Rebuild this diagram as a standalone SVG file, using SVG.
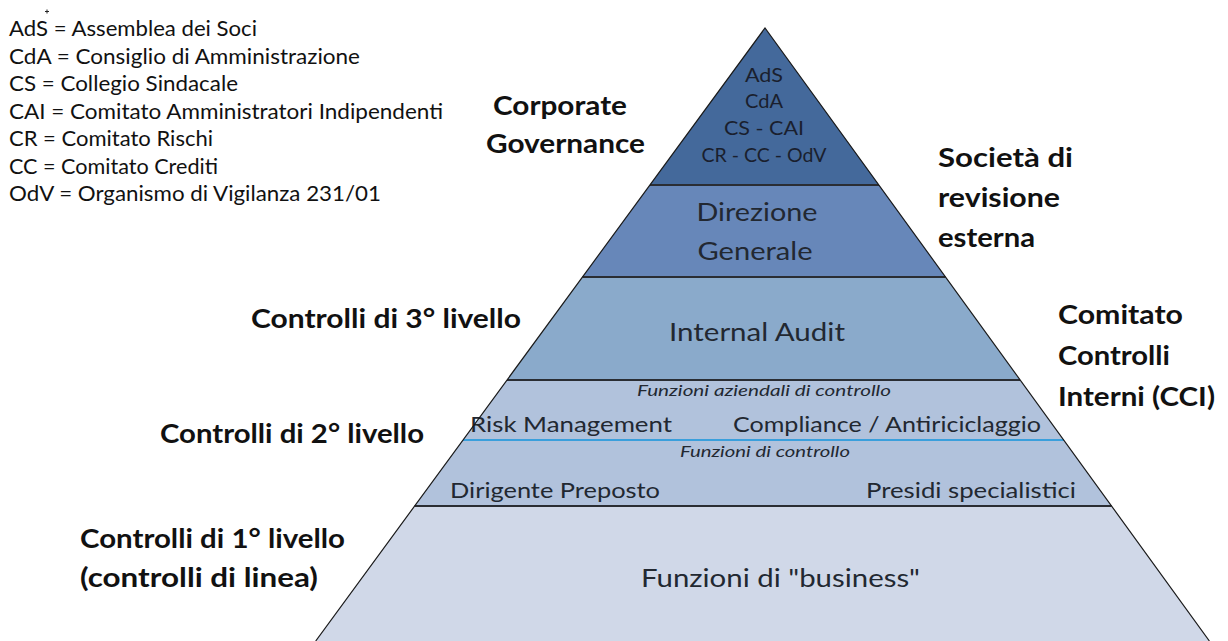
<svg xmlns="http://www.w3.org/2000/svg" width="1228" height="641" viewBox="0 0 1228 641">
<style>
text{font-family:Lato,"Open Sans","Liberation Sans",sans-serif;fill:#111;}
.leg{font-size:21px;}
.lbl{font-size:27px;font-weight:bold;}
.in{font-size:20px;fill:#1a1f2e;text-anchor:middle;}
.big{font-size:25px;fill:#222831;text-anchor:middle;}
.mid{font-size:21px;fill:#222831;}
.it{font-size:16px;font-style:italic;fill:#222831;text-anchor:middle;}
.band{stroke:none;}
.sep{stroke:#2a2d33;stroke-width:2;}
.edge{fill:none;stroke:#1a1a1a;stroke-width:1.2;}
</style>
<rect width="1228" height="641" fill="#ffffff"/>

<g id="legend">
<path d="M47 9.5v4M45 11.5h4" stroke="#222" stroke-width="1"/>
<text class="leg" x="9" y="36" textLength="248" lengthAdjust="spacingAndGlyphs">AdS = Assemblea dei Soci</text>
<text class="leg" x="9" y="63.5" textLength="351" lengthAdjust="spacingAndGlyphs">CdA = Consiglio di Amministrazione</text>
<text class="leg" x="9" y="91" textLength="229" lengthAdjust="spacingAndGlyphs">CS = Collegio Sindacale</text>
<text class="leg" x="9" y="118.5" textLength="434" lengthAdjust="spacingAndGlyphs">CAI = Comitato Amministratori Indipendenti</text>
<text class="leg" x="9" y="146" textLength="204" lengthAdjust="spacingAndGlyphs">CR = Comitato Rischi</text>
<text class="leg" x="9" y="173.5" textLength="209" lengthAdjust="spacingAndGlyphs">CC = Comitato Crediti</text>
<text class="leg" x="9" y="201" textLength="372" lengthAdjust="spacingAndGlyphs">OdV = Organismo di Vigilanza 231/01</text>
</g>

<g id="band-governance">
<polygon class="band" points="765,28 650,185 879,185" fill="#44699b"/>
<text class="in" x="764" y="82" textLength="38" lengthAdjust="spacingAndGlyphs">AdS</text>
<text class="in" x="764" y="108" textLength="38" lengthAdjust="spacingAndGlyphs">CdA</text>
<text class="in" x="764" y="135" textLength="80" lengthAdjust="spacingAndGlyphs">CS - CAI</text>
<text class="in" x="764" y="162" textLength="125" lengthAdjust="spacingAndGlyphs">CR - CC - OdV</text>
</g>

<g id="band-direzione">
<polygon class="band" points="650,185 879,185 945.5,277 582.5,277" fill="#6787b9"/>
<text class="big" x="757" y="221" textLength="121" lengthAdjust="spacingAndGlyphs">Direzione</text>
<text class="big" x="755" y="260" textLength="115" lengthAdjust="spacingAndGlyphs">Generale</text>
</g>

<g id="band-audit">
<polygon class="band" points="582.5,277 945.5,277 1020,380 507,380" fill="#8aaacb"/>
<text class="big" x="757" y="341" textLength="176" lengthAdjust="spacingAndGlyphs">Internal Audit</text>
</g>

<g id="band-secondo">
<polygon class="band" points="507,380 1020,380 1111.6,506 414.6,506" fill="#b1c2dc"/>
<text class="it" x="764" y="396" textLength="254" lengthAdjust="spacingAndGlyphs">Funzioni aziendali di controllo</text>
<text class="mid" x="470" y="432" textLength="202" lengthAdjust="spacingAndGlyphs">Risk Management</text>
<text class="mid" x="733" y="432" textLength="308" lengthAdjust="spacingAndGlyphs">Compliance / Antiriciclaggio</text>
<line x1="463" y1="440" x2="1064" y2="440" stroke="#3a9fdc" stroke-width="2"/>
<text class="it" x="765" y="457" textLength="170" lengthAdjust="spacingAndGlyphs">Funzioni di controllo</text>
<text class="mid" x="450" y="498" textLength="210" lengthAdjust="spacingAndGlyphs">Dirigente Preposto</text>
<text class="mid" x="866" y="498" textLength="210" lengthAdjust="spacingAndGlyphs">Presidi specialistici</text>
</g>

<g id="band-business">
<polygon class="band" points="414.6,506 1111.6,506 1209.4,641 315.7,641" fill="#d0d8e8"/>
<text class="big" x="780.5" y="587" textLength="279" lengthAdjust="spacingAndGlyphs">Funzioni di "business"</text>
</g>

<g id="separators">
<line class="sep" x1="650" y1="185" x2="879" y2="185"/>
<line class="sep" x1="582.5" y1="277" x2="945.5" y2="277"/>
<line class="sep" x1="507" y1="380" x2="1020" y2="380"/>
<line class="sep" x1="414.6" y1="506" x2="1111.6" y2="506"/>
<polyline class="edge" points="315.7,641 765,28 1209.4,641"/>
</g>

<g id="labels">
<text class="lbl" x="493" y="115" textLength="134" lengthAdjust="spacingAndGlyphs">Corporate</text>
<text class="lbl" x="486" y="153" textLength="159" lengthAdjust="spacingAndGlyphs">Governance</text>
<text class="lbl" x="938" y="167" textLength="135" lengthAdjust="spacingAndGlyphs">Società di</text>
<text class="lbl" x="938" y="207" textLength="122" lengthAdjust="spacingAndGlyphs">revisione</text>
<text class="lbl" x="938" y="247" textLength="97" lengthAdjust="spacingAndGlyphs">esterna</text>
<text class="lbl" x="251" y="328" textLength="270" lengthAdjust="spacingAndGlyphs">Controlli di 3° livello</text>
<text class="lbl" x="160" y="443" textLength="264" lengthAdjust="spacingAndGlyphs">Controlli di 2° livello</text>
<text class="lbl" x="80" y="548" textLength="265" lengthAdjust="spacingAndGlyphs">Controlli di 1° livello</text>
<text class="lbl" x="80" y="587" textLength="238" lengthAdjust="spacingAndGlyphs">(controlli di linea)</text>
<text class="lbl" x="1058" y="324" textLength="125" lengthAdjust="spacingAndGlyphs">Comitato</text>
<text class="lbl" x="1058" y="365" textLength="112" lengthAdjust="spacingAndGlyphs">Controlli</text>
<text class="lbl" x="1058" y="406" textLength="157" lengthAdjust="spacingAndGlyphs">Interni (CCI)</text>
</g>
</svg>
